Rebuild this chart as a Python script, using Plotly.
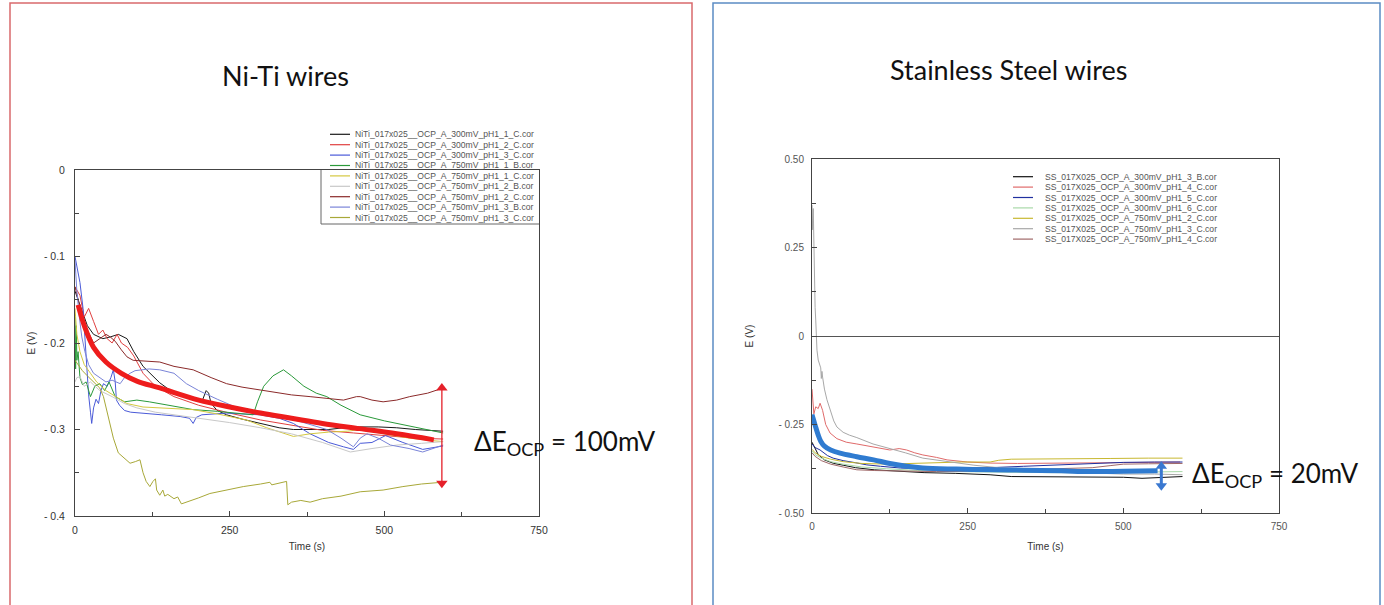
import plotly.graph_objects as go

PAGE_W, PAGE_H = 1384, 605
OFF = 0  # body margin removed by post_script
FW, FH = PAGE_W - 2 * OFF, PAGE_H - 2 * OFF

# ---------------- Ni-Ti data ----------------
niti_names = [
    "NiTi_017x025__OCP_A_300mV_pH1_1_C.cor",
    "NiTi_017x025__OCP_A_300mV_pH1_2_C.cor",
    "NiTi_017x025__OCP_A_300mV_pH1_3_C.cor",
    "NiTi_017x025__OCP_A_750mV_pH1_1_B.cor",
    "NiTi_017x025__OCP_A_750mV_pH1_1_C.cor",
    "NiTi_017x025__OCP_A_750mV_pH1_2_B.cor",
    "NiTi_017x025__OCP_A_750mV_pH1_2_C.cor",
    "NiTi_017x025__OCP_A_750mV_pH1_3_B.cor",
    "NiTi_017x025__OCP_A_750mV_pH1_3_C.cor",
]
niti_colors = ["#1a1a1a", "#e04040", "#4a5ad8", "#2a9a3a", "#d4c840",
               "#c8c8c8", "#8b2a2a", "#7a84d8", "#a8a838"]

niti_1 = [(0, -0.14), (5, -0.15), (12, -0.165), (20, -0.18), (30, -0.19), (45, -0.195),
          (57, -0.193), (70, -0.19), (84, -0.195), (95, -0.21), (110, -0.227), (125, -0.238),
          (137, -0.246), (160, -0.258), (191, -0.266), (205, -0.268), (212, -0.255),
          (216, -0.258), (220, -0.27), (230, -0.278), (245, -0.283), (270, -0.288),
          (300, -0.293), (330, -0.298), (353, -0.300), (380, -0.300), (410, -0.300),
          (434, -0.298), (460, -0.297), (490, -0.297), (520, -0.298), (550, -0.300),
          (580, -0.301), (595, -0.302)]
niti_2 = [(0, -0.135), (8, -0.145), (15, -0.17), (22, -0.16), (30, -0.175), (38, -0.19),
          (45, -0.185), (52, -0.195), (60, -0.20), (68, -0.19), (75, -0.20), (85, -0.205),
          (95, -0.215), (110, -0.235), (130, -0.25), (160, -0.262), (200, -0.272),
          (250, -0.281), (300, -0.289), (350, -0.295), (400, -0.301), (450, -0.304),
          (500, -0.307), (550, -0.310), (595, -0.311)]
niti_3 = [(0, -0.10), (4, -0.115), (8, -0.13), (13, -0.16), (18, -0.22), (22, -0.26),
          (25, -0.28), (27, -0.293), (30, -0.275), (34, -0.265), (38, -0.27), (42, -0.255),
          (46, -0.247), (52, -0.25), (58, -0.24), (62, -0.231), (65, -0.245), (67, -0.266),
          (72, -0.272), (80, -0.278), (90, -0.28), (110, -0.281), (140, -0.283), (170, -0.285),
          (185, -0.287), (191, -0.293), (196, -0.286), (205, -0.283), (245, -0.281),
          (270, -0.282), (299, -0.283), (330, -0.287), (353, -0.293), (380, -0.305),
          (410, -0.315), (434, -0.320), (450, -0.323), (461, -0.316), (480, -0.315),
          (502, -0.307), (530, -0.315), (562, -0.323), (580, -0.321), (595, -0.319)]
niti_4 = [(0, -0.17), (1, -0.23), (2, -0.18), (3, -0.22), (5, -0.21), (8, -0.24),
          (12, -0.248), (18, -0.245), (25, -0.262), (32, -0.250), (40, -0.247), (48, -0.255),
          (55, -0.245), (65, -0.262), (80, -0.268), (100, -0.266), (120, -0.268),
          (150, -0.272), (191, -0.277), (230, -0.279), (260, -0.281), (288, -0.283),
          (295, -0.268), (305, -0.25), (320, -0.238), (337, -0.231), (350, -0.238),
          (370, -0.25), (390, -0.258), (407, -0.262), (430, -0.272), (461, -0.283),
          (500, -0.29), (540, -0.296), (570, -0.30), (595, -0.304)]
niti_5 = [(0, -0.16), (3, -0.19), (8, -0.21), (15, -0.225), (25, -0.235), (35, -0.245),
          (50, -0.255), (65, -0.262), (84, -0.270), (110, -0.274), (140, -0.275),
          (191, -0.277), (230, -0.282), (277, -0.289), (310, -0.298), (340, -0.305),
          (353, -0.308), (380, -0.305), (410, -0.303), (440, -0.302), (461, -0.300),
          (500, -0.305), (540, -0.310), (580, -0.313), (595, -0.314)]
niti_6 = [(0, -0.245), (3, -0.24), (8, -0.239), (15, -0.25), (25, -0.245), (40, -0.255),
          (60, -0.262), (80, -0.27), (100, -0.275), (130, -0.28), (160, -0.283),
          (200, -0.287), (250, -0.292), (300, -0.298), (350, -0.305), (400, -0.315),
          (445, -0.326), (480, -0.322), (520, -0.318), (560, -0.316), (595, -0.314)]
niti_7 = [(0, -0.135), (5, -0.15), (12, -0.17), (20, -0.185), (30, -0.20), (40, -0.195),
          (50, -0.19), (57, -0.193), (65, -0.198), (75, -0.208), (84, -0.216), (94, -0.220),
          (110, -0.221), (125, -0.222), (137, -0.222), (160, -0.227), (191, -0.231),
          (220, -0.240), (245, -0.247), (270, -0.251), (299, -0.254), (330, -0.258),
          (350, -0.260), (380, -0.262), (410, -0.264), (434, -0.266), (455, -0.262),
          (461, -0.262), (480, -0.266), (498, -0.268), (520, -0.266), (541, -0.262),
          (570, -0.258), (595, -0.252)]
niti_8 = [(0, -0.105), (3, -0.14), (7, -0.17), (11, -0.193), (16, -0.21), (22, -0.225),
          (30, -0.235), (40, -0.24), (50, -0.245), (60, -0.243), (73, -0.247), (80, -0.24),
          (89, -0.235), (97, -0.232), (105, -0.231), (120, -0.23), (137, -0.231),
          (160, -0.235), (180, -0.247), (200, -0.255), (230, -0.265), (256, -0.273),
          (280, -0.278), (300, -0.281), (330, -0.285), (360, -0.29), (407, -0.300),
          (430, -0.31), (450, -0.320), (461, -0.31), (472, -0.305), (490, -0.31),
          (510, -0.318), (540, -0.322), (562, -0.326), (580, -0.322), (595, -0.318)]
niti_9 = [(0, -0.22), (5, -0.225), (12, -0.232), (20, -0.238), (30, -0.245), (40, -0.252),
          (46, -0.262), (55, -0.29), (62, -0.31), (70, -0.327), (80, -0.333), (89, -0.339),
          (98, -0.337), (105, -0.335), (110, -0.350), (115, -0.36), (121, -0.366),
          (126, -0.36), (130, -0.357), (132, -0.370), (137, -0.376), (142, -0.37),
          (145, -0.377), (150, -0.375), (160, -0.38), (166, -0.378), (172, -0.386),
          (185, -0.383), (200, -0.379), (218, -0.374), (245, -0.370), (272, -0.366),
          (300, -0.363), (315, -0.361), (318, -0.364), (342, -0.360), (344, -0.387),
          (350, -0.384), (365, -0.382), (380, -0.384), (400, -0.380), (430, -0.377),
          (461, -0.372), (498, -0.370), (530, -0.366), (560, -0.363), (593, -0.361)]
niti_series = [niti_1, niti_2, niti_3, niti_4, niti_5, niti_6, niti_7, niti_8, niti_9]

niti_trend = [(5, -0.156), (15, -0.18), (30, -0.205), (50, -0.222), (75, -0.235),
              (100, -0.244), (137, -0.252), (200, -0.266), (250, -0.274), (300, -0.281),
              (350, -0.287), (400, -0.293), (460, -0.299), (520, -0.305), (580, -0.312)]
niti_delta_t = [593, 593]
niti_delta_e = [-0.252, -0.362]

# ---------------- Stainless steel data ----------------
ss_names = [
    "SS_017X025_OCP_A_300mV_pH1_3_B.cor",
    "SS_017X025_OCP_A_300mV_pH1_4_C.cor",
    "SS_017X025_OCP_A_300mV_pH1_5_C.cor",
    "SS_017X025_OCP_A_300mV_pH1_6_C.cor",
    "SS_017X025_OCP_A_750mV_pH1_2_C.cor",
    "SS_017X025_OCP_A_750mV_pH1_3_C.cor",
    "SS_017X025_OCP_A_750mV_pH1_4_C.cor",
]
ss_colors = ["#111111", "#e06a6a", "#2030a0", "#a8d8a8", "#c8b830", "#a8a8a8", "#a06868"]

ss_1 = [(0, -0.30), (5, -0.32), (10, -0.335), (20, -0.35), (35, -0.36), (50, -0.365),
        (70, -0.372), (100, -0.378), (140, -0.383), (180, -0.386), (230, -0.388),
        (286, -0.392), (320, -0.397), (380, -0.398), (430, -0.398), (460, -0.400),
        (500, -0.399), (530, -0.402), (560, -0.400), (580, -0.397), (595, -0.397)]
ss_2 = [(0, -0.15), (3, -0.22), (6, -0.20), (10, -0.205), (13, -0.19), (17, -0.21),
        (22, -0.25), (29, -0.274), (40, -0.29), (55, -0.30), (72, -0.305), (100, -0.315),
        (125, -0.322), (140, -0.318), (152, -0.322), (165, -0.33), (178, -0.336),
        (200, -0.343), (217, -0.350), (250, -0.356), (286, -0.359), (330, -0.360),
        (380, -0.360), (430, -0.359), (480, -0.358), (540, -0.357), (591, -0.356)]
ss_3 = [(0, -0.305), (5, -0.315), (13, -0.322), (25, -0.338), (34, -0.345), (50, -0.352),
        (70, -0.358), (88, -0.364), (110, -0.368), (142, -0.373), (180, -0.375),
        (230, -0.374), (286, -0.372), (340, -0.368), (400, -0.364), (450, -0.360),
        (500, -0.357), (550, -0.356), (595, -0.356)]
ss_4 = [(0, -0.325), (5, -0.335), (15, -0.345), (30, -0.355), (50, -0.362), (80, -0.37),
        (120, -0.375), (170, -0.38), (230, -0.383), (300, -0.385), (380, -0.386),
        (450, -0.386), (520, -0.385), (595, -0.383)]
ss_5 = [(0, -0.32), (5, -0.33), (15, -0.34), (30, -0.348), (50, -0.355), (80, -0.36),
        (120, -0.362), (160, -0.360), (200, -0.357), (240, -0.356), (286, -0.356),
        (300, -0.351), (320, -0.348), (360, -0.347), (420, -0.346), (480, -0.346),
        (540, -0.345), (595, -0.345)]
ss_6 = [(0, 0.37), (1, 0.30), (2, 0.36), (3, 0.22), (4, 0.15), (5, 0.08), (6, 0.045),
        (7, 0.0), (8, -0.04), (10, -0.068), (13, -0.088), (14, -0.09), (15, -0.12),
        (16, -0.10), (17, -0.116), (20, -0.15), (24, -0.18), (29, -0.209), (35, -0.24),
        (40, -0.257), (50, -0.272), (60, -0.28), (72, -0.287), (98, -0.305), (125, -0.317),
        (150, -0.33), (178, -0.345), (205, -0.352), (233, -0.359), (260, -0.365),
        (300, -0.372), (350, -0.378), (400, -0.383), (450, -0.387), (500, -0.39),
        (550, -0.39), (595, -0.392)]
ss_7 = [(0, -0.33), (5, -0.34), (15, -0.352), (30, -0.362), (50, -0.37), (72, -0.378),
        (100, -0.38), (150, -0.382), (200, -0.383), (250, -0.382), (300, -0.38),
        (350, -0.378), (400, -0.376), (450, -0.372), (480, -0.366), (500, -0.362),
        (540, -0.361), (595, -0.360)]
ss_series = [ss_1, ss_2, ss_3, ss_4, ss_5, ss_6, ss_7]

ss_trend = [(0, -0.222), (3, -0.24), (6, -0.258), (10, -0.28), (14, -0.297), (20, -0.311),
            (30, -0.322), (45, -0.331), (72, -0.341), (99, -0.350), (125, -0.360),
            (152, -0.368), (178, -0.373), (232, -0.376), (290, -0.378), (340, -0.379),
            (400, -0.381), (446, -0.383), (500, -0.382), (555, -0.381)]
ss_delta_t = [561, 561]
ss_delta_e = [-0.368, -0.423]


# ---------------- helpers: page pixel -> paper fraction ----------------
def px(xp):
    return (xp - OFF) / FW


def py(yp):
    return 1 - (yp - OFF) / FH


fig = go.Figure()

for name, color, pts in zip(niti_names, niti_colors, niti_series):
    fig.add_trace(go.Scatter(x=[p[0] for p in pts], y=[p[1] for p in pts], mode="lines",
                             name=name, line=dict(color=color, width=1),
                             showlegend=False, xaxis="x", yaxis="y"))
fig.add_trace(go.Scatter(x=[p[0] for p in niti_trend], y=[p[1] for p in niti_trend],
                         mode="lines", line=dict(color="#ee1c1c", width=5, shape="spline"),
                         showlegend=False, hoverinfo="skip", xaxis="x", yaxis="y"))
fig.add_trace(go.Scatter(x=niti_delta_t, y=niti_delta_e, mode="lines+markers",
                         line=dict(color="#e5202a", width=1.3),
                         marker=dict(symbol=["triangle-up", "triangle-down"], size=10,
                                     color="#e5202a"),
                         showlegend=False, hoverinfo="skip", cliponaxis=False,
                         xaxis="x", yaxis="y"))

for name, color, pts in zip(ss_names, ss_colors, ss_series):
    fig.add_trace(go.Scatter(x=[p[0] for p in pts], y=[p[1] for p in pts], mode="lines",
                             name=name, line=dict(color=color, width=1),
                             showlegend=False, xaxis="x2", yaxis="y2"))
fig.add_trace(go.Scatter(x=[p[0] for p in ss_trend], y=[p[1] for p in ss_trend],
                         mode="lines", line=dict(color="#2f7bd0", width=5, shape="spline"),
                         showlegend=False, hoverinfo="skip", xaxis="x2", yaxis="y2"))
fig.add_trace(go.Scatter(x=ss_delta_t, y=ss_delta_e, mode="lines+markers",
                         line=dict(color="#3a78d0", width=3),
                         marker=dict(symbol=["triangle-up", "triangle-down"], size=10,
                                     color="#3a78d0"),
                         showlegend=False, hoverinfo="skip", cliponaxis=False,
                         xaxis="x2", yaxis="y2"))

tickfont_l = dict(family="Liberation Sans, Arial, sans-serif", size=10.5, color="#333")
tickfont_r = dict(family="Liberation Sans, Arial, sans-serif", size=10, color="#555")
axfont = dict(family="Liberation Sans, Arial, sans-serif", size=10, color="#333")

x_common = dict(range=[0, 750], tickvals=[0, 250, 500, 750], ticktext=["0", "250", "500", "750"],
                ticks="inside", ticklen=5, tickcolor="#444", showline=True, linecolor="#444",
                linewidth=1, mirror=True, showgrid=False, zeroline=False,
                minor=dict(tickvals=[125, 375, 625], ticks="inside", ticklen=4, tickcolor="#444"))

fig.update_layout(
    width=FW, height=FH,
    margin=dict(l=0, r=0, t=0, b=0),
    paper_bgcolor="white", plot_bgcolor="white",
    showlegend=False,
    xaxis=dict(domain=[px(75), px(539)], anchor="y", tickfont=tickfont_l,
               ticklabelstandoff=4, automargin=False,
               title=dict(text="Time (s)", font=axfont, standoff=8), **x_common),
    yaxis=dict(domain=[py(516), py(170)], anchor="x", range=[-0.4, 0],
               tickvals=[0, -0.1, -0.2, -0.3, -0.4],
               ticktext=["0", "- 0.1", "- 0.2", "- 0.3", "- 0.4"],
               ticks="inside", ticklen=5, tickcolor="#444", showline=True, linecolor="#444",
               linewidth=1, mirror=True, showgrid=False, zeroline=False,
               tickfont=tickfont_l, ticklabelstandoff=7, automargin=False,
               title=dict(text="E (V)", font=axfont, standoff=6),
               minor=dict(tickvals=[-0.05, -0.15, -0.25, -0.35], ticks="inside", ticklen=4,
                          tickcolor="#444")),
    xaxis2=dict(domain=[px(812), px(1279)], anchor="y2", tickfont=tickfont_r,
                ticklabelstandoff=4, automargin=False,
                title=dict(text="Time (s)", font=axfont, standoff=11), **x_common),
    yaxis2=dict(domain=[py(513), py(159)], anchor="x2", range=[-0.5, 0.5],
                tickvals=[0.5, 0.25, 0, -0.25, -0.5],
                ticktext=["0.50", "0.25", "0", "- 0.25", "- 0.50"],
                ticks="inside", ticklen=5, tickcolor="#444", showline=True, linecolor="#444",
                linewidth=1, mirror=True, showgrid=False,
                zeroline=True, zerolinecolor="#555", zerolinewidth=1,
                tickfont=tickfont_r, ticklabelstandoff=5, automargin=False,
                title=dict(text="E (V)", font=axfont, standoff=22),
                minor=dict(tickvals=[0.375, 0.125, -0.125, -0.375], ticks="inside", ticklen=4,
                           tickcolor="#444")),
)

shapes = []
annotations = []

# panel frames
shapes.append(dict(type="rect", xref="paper", yref="paper", x0=px(10), x1=px(692),
                   y0=py(640), y1=py(3), line=dict(color="#d9696c", width=1.5)))
shapes.append(dict(type="rect", xref="paper", yref="paper", x0=px(713), x1=px(1380),
                   y0=py(640), y1=py(3), line=dict(color="#5b8cc4", width=1.5)))

# left inner legend box (partly clipped in original)
shapes.append(dict(type="path", xref="paper", yref="paper",
                   path=f"M {px(321)} {py(170)} L {px(321)} {py(224)} L {px(539)} {py(224)}",
                   line=dict(color="#666", width=1)))

# manual legends
legfont = dict(family="Liberation Sans, Arial, sans-serif", size=8.6, color="#555")
for i, (name, color) in enumerate(zip(niti_names, niti_colors)):
    yy = 134.3 + 10.4 * i
    shapes.append(dict(type="line", xref="paper", yref="paper", x0=px(330), x1=px(350),
                       y0=py(yy), y1=py(yy), line=dict(color=color, width=1.2)))
    annotations.append(dict(text=name, xref="paper", yref="paper", x=px(353), y=py(yy),
                            xanchor="left", yanchor="middle", showarrow=False, font=legfont))
for i, (name, color) in enumerate(zip(ss_names, ss_colors)):
    yy = 176.7 + 10.4 * i
    shapes.append(dict(type="line", xref="paper", yref="paper", x0=px(1013), x1=px(1033),
                       y0=py(yy), y1=py(yy), line=dict(color=color, width=1.2)))
    annotations.append(dict(text=name, xref="paper", yref="paper", x=px(1043), y=py(yy),
                            xanchor="left", yanchor="middle", showarrow=False, font=legfont))

# titles
annotations.append(dict(text="Ni-Ti wires", xref="paper", yref="paper", x=px(285), y=py(76),
                        xanchor="center", yanchor="middle", showarrow=False,
                        font=dict(family="Lato, sans-serif", size=27, color="#111")))
annotations.append(dict(text="Stainless Steel wires", xref="paper", yref="paper", x=px(1009),
                        y=py(69), xanchor="center", yanchor="middle", showarrow=False,
                        font=dict(family="Lato, sans-serif", size=27, color="#111")))

# delta E annotations
annotations.append(dict(text="ΔE<sub>OCP</sub> = 100mV", xref="paper", yref="paper",
                        x=px(472), y=py(442), xanchor="left", yanchor="middle",
                        showarrow=False, font=dict(family="Lato, sans-serif", size=26,
                                                   color="#111")))
annotations.append(dict(text="ΔE<sub>OCP</sub> = 20mV", xref="paper", yref="paper",
                        x=px(1190), y=py(474), xanchor="left", yanchor="middle",
                        showarrow=False, font=dict(family="Lato, sans-serif", size=26,
                                                   color="#111")))

fig.update_layout(shapes=shapes, annotations=annotations)

fig.write_html("out.html", include_plotlyjs=True, config={"displayModeBar": False},
               post_script="document.body.style.margin='0';document.body.style.overflow='hidden';")
